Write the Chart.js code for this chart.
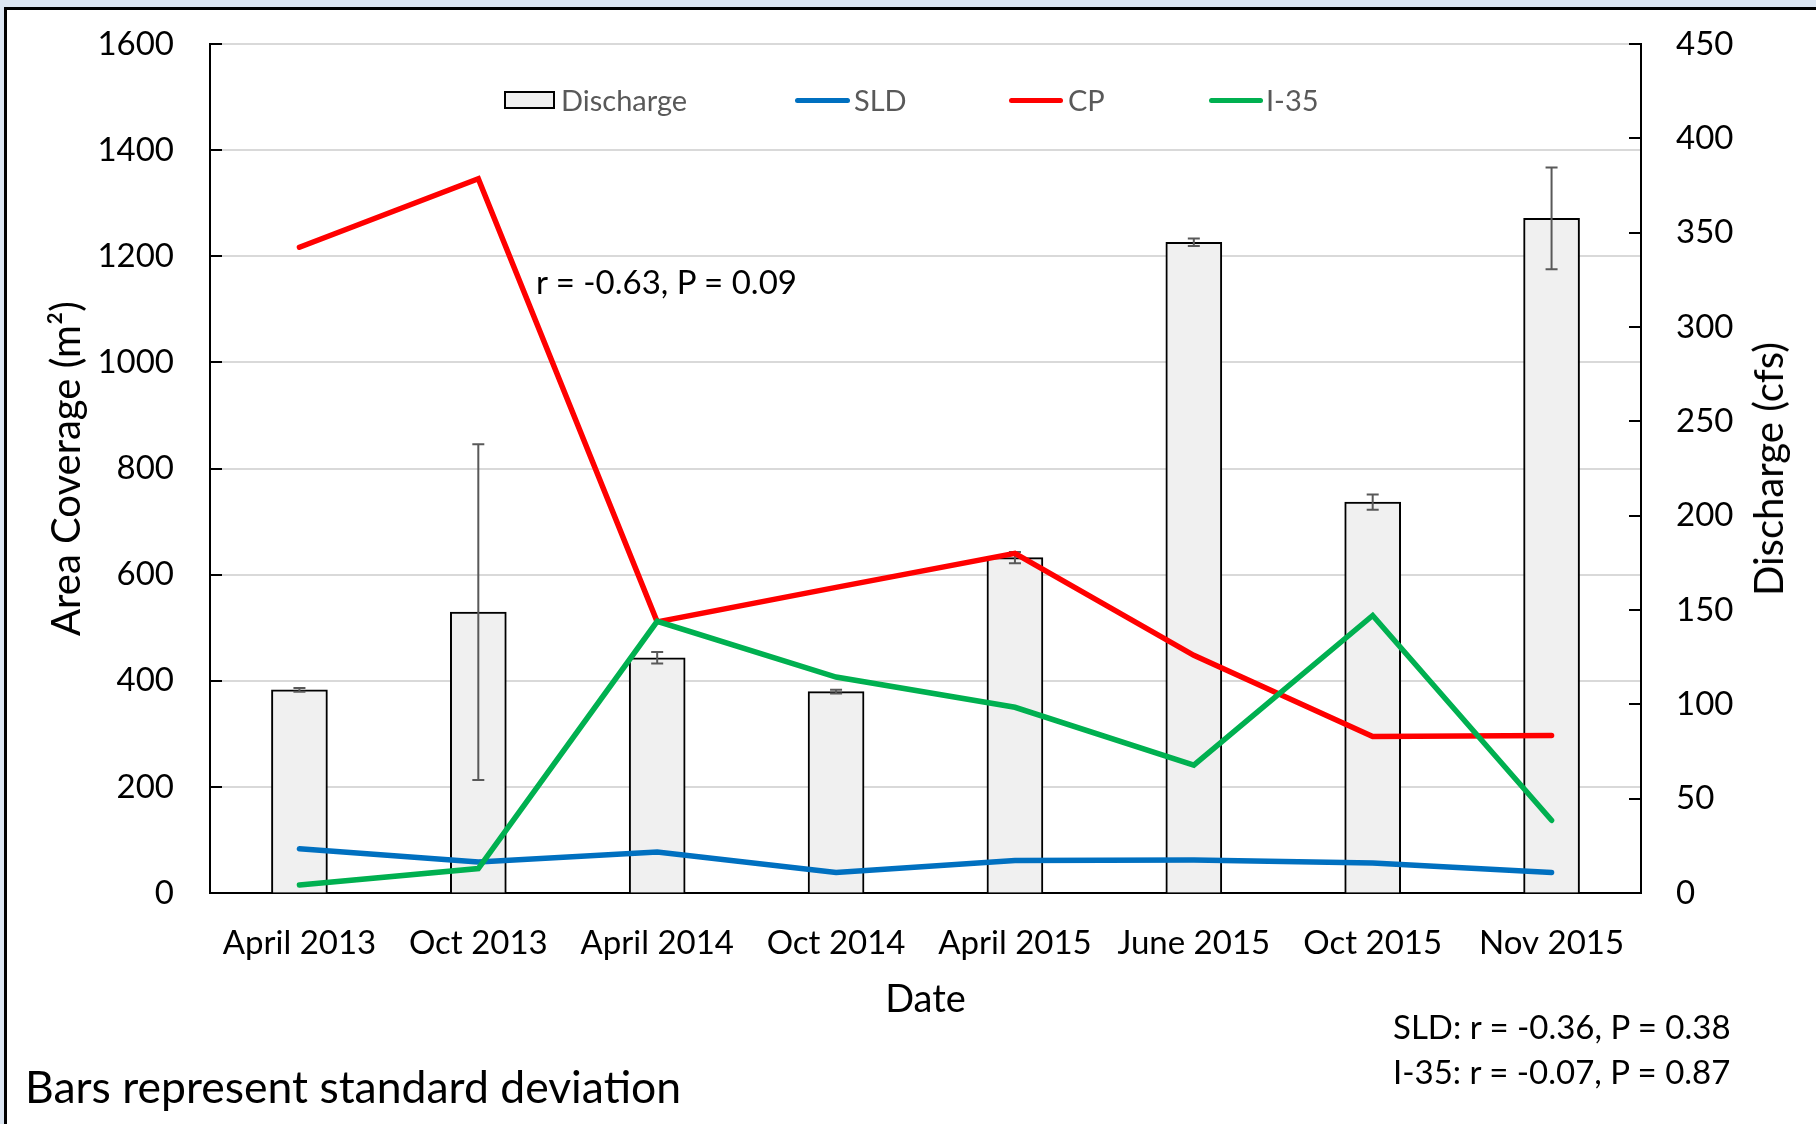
<!DOCTYPE html>
<html>
<head>
<meta charset="utf-8">
<script src="https://cdn.jsdelivr.net/npm/chart.js@4.4.1/dist/chart.umd.min.js"></script>
<style>
  html, body { margin: 0; padding: 0; }
  body { width: 1816px; height: 1124px; overflow: hidden; background: #dce6f2; position: relative; font-family: Lato, sans-serif; }
  #frame { position: absolute; left: 4px; top: 7px; width: 1900px; height: 1200px; border-top: 3px solid #000; border-left: 3px solid #000; background: #fff; }
  #c { position: absolute; left: 0; top: 0; }
  .t { position: absolute; white-space: nowrap; color: #000; font-family: Lato, sans-serif; }
  .lg { position: absolute; white-space: nowrap; color: #595959; font-family: Lato, sans-serif; font-size: 29px; line-height: 36px; top: 82px; }
  .ll { position: absolute; height: 5px; top: 98px; border-radius: 3px; }
</style>
</head>
<body>
<div id="frame"></div>
<canvas id="c" width="1816" height="1124"></canvas>

<div style="position:absolute;left:504px;top:91px;width:51px;height:18px;background:#f0f0f0;border:2px solid #000;box-sizing:border-box;"></div>
<div class="lg" style="left:561px;">Discharge</div>
<div class="ll" style="left:795px;width:55px;background:#0070C0;"></div>
<div class="lg" style="left:854px;">SLD</div>
<div class="ll" style="left:1009px;width:54px;background:#FF0000;"></div>
<div class="lg" style="left:1068px;">CP</div>
<div class="ll" style="left:1209px;width:54px;background:#00B050;"></div>
<div class="lg" style="left:1266px;">I-35</div>

<div class="t" style="left:536px;top:261px;font-size:33px;line-height:40px;">r = -0.63, P = 0.09</div>
<div class="t" style="left:1393px;top:1006px;font-size:33px;line-height:40px;">SLD: r = -0.36, P = 0.38</div>
<div class="t" style="left:1393px;top:1051px;font-size:33px;line-height:40px;">I-35: r = -0.07, P = 0.87</div>
<div class="t" style="left:25px;top:1062px;font-size:44.5px;line-height:48px;">Bars represent standard deviation</div>
<div class="t" style="left:1768px;top:469px;font-size:40px;line-height:46px;transform:translate(-50%,-50%) rotate(-90deg);">Discharge (cfs)</div>

<script>
const categories = ['April 2013', 'Oct 2013', 'April 2014', 'Oct 2014', 'April 2015', 'June 2015', 'Oct 2015', 'Nov 2015'];
const discharge   = [107.7, 148.9, 124.7, 106.7, 177.8, 344.9, 207.2, 357.6];
const dischargeSD = [1, 89, 3, 1, 3, 2, 4, 27];
const sld = [83.5, 58.4, 77.2, 38.8, 61.4, 62, 56.5, 38.8];
const cp  = [1217, 1346, 511, 576, 640, 448, 295, 297];
const i35 = [15, 46, 512, 407, 350, 241, 523, 137];
const leftTicks = [0, 200, 400, 600, 800, 1000, 1200, 1400, 1600];
const rightTicks = [0, 50, 100, 150, 200, 250, 300, 350, 400, 450];

const errorBars = {
  id: 'errorBars',
  afterDatasetDraw(chart, args) {
    if (args.index !== 0) return;
    const meta = chart.getDatasetMeta(0);
    const ys = chart.scales.y2;
    const ctx = chart.ctx;
    ctx.save();
    ctx.strokeStyle = '#595959';
    ctx.lineWidth = 2;
    meta.data.forEach((bar, i) => {
      const x = bar.x;
      const top = ys.getPixelForValue(discharge[i] + dischargeSD[i]);
      const bot = ys.getPixelForValue(discharge[i] - dischargeSD[i]);
      ctx.beginPath();
      ctx.moveTo(x, top); ctx.lineTo(x, bot);
      ctx.moveTo(x - 6, top); ctx.lineTo(x + 6, top);
      ctx.moveTo(x - 6, bot); ctx.lineTo(x + 6, bot);
      ctx.stroke();
    });
    ctx.restore();
  }
};

const insideTicks = {
  id: 'insideTicks',
  afterDraw(chart) {
    const ctx = chart.ctx;
    const yl = chart.scales.y, yr = chart.scales.y2;
    ctx.save();
    ctx.strokeStyle = '#000';
    ctx.lineWidth = 2;
    ctx.beginPath();
    leftTicks.forEach(v => {
      const p = Math.round(yl.getPixelForValue(v));
      ctx.moveTo(yl.right, p); ctx.lineTo(yl.right + 12, p);
    });
    rightTicks.forEach(v => {
      const p = Math.round(yr.getPixelForValue(v));
      ctx.moveTo(yr.left, p); ctx.lineTo(yr.left - 12, p);
    });
    ctx.stroke();
    ctx.restore();
  }
};

function build() {
  new Chart(document.getElementById('c'), {
    type: 'bar',
    data: {
      labels: categories,
      datasets: [
        { type: 'bar', label: 'Discharge', data: discharge, yAxisID: 'y2', order: 10,
          backgroundColor: '#f0f0f0', borderColor: '#000', borderWidth: 2, barThickness: 56 },
        { type: 'line', label: 'SLD', data: sld, yAxisID: 'y', order: 3,
          borderColor: '#0070C0', borderWidth: 5.5, pointRadius: 0, borderCapStyle: 'round', fill: false, tension: 0 },
        { type: 'line', label: 'CP', data: cp, yAxisID: 'y', order: 2,
          borderColor: '#FF0000', borderWidth: 5.5, pointRadius: 0, borderCapStyle: 'round', fill: false, tension: 0 },
        { type: 'line', label: 'I-35', data: i35, yAxisID: 'y', order: 1,
          borderColor: '#00B050', borderWidth: 5.5, pointRadius: 0, borderCapStyle: 'round', fill: false, tension: 0 }
      ]
    },
    options: {
      responsive: false,
      animation: false,
      devicePixelRatio: 1,
      layout: { padding: { top: 44, left: 0, right: 0, bottom: 0 } },
      plugins: { legend: { display: false }, tooltip: { enabled: false } },
      scales: {
        x: {
          offset: true,
          grid: { display: false, drawTicks: false },
          border: { display: true, color: '#000', width: 2 },
          ticks: { color: '#000', font: { family: 'Lato', size: 33 }, padding: 31, maxRotation: 0, autoSkip: false },
          title: { display: true, text: 'Date', color: '#000', font: { family: 'Lato', size: 38 }, padding: { top: 0, bottom: 101 } },
          afterFit(s) { s.height = 231; }
        },
        y: {
          position: 'left', min: 0, max: 1600,
          ticks: { stepSize: 200, color: '#000', font: { family: 'Lato', size: 33 }, padding: 6,
                   callback: v => String(v) },
          grid: { color: '#d9d9d9', lineWidth: 2, drawTicks: true, tickLength: 30, tickColor: 'rgba(0,0,0,0)' },
          border: { display: true, color: '#000', width: 2 },
          title: { display: true, text: 'Area Coverage (m²)', color: '#000', font: { family: 'Lato', size: 40 }, padding: { top: 43, bottom: 0 } },
          afterFit(s) { s.width = 210; }
        },
        y2: {
          position: 'right', min: 0, max: 450,
          ticks: { stepSize: 50, color: '#000', font: { family: 'Lato', size: 33 }, padding: 5,
                   callback: v => String(v) },
          grid: { display: true, drawOnChartArea: false, drawTicks: true, tickLength: 30, tickColor: 'rgba(0,0,0,0)' },
          border: { display: true, color: '#000', width: 2 },
          afterFit(s) { s.width = 175; }
        }
      }
    },
    plugins: [errorBars, insideTicks]
  });
}

if (document.fonts && document.fonts.load) {
  Promise.all([document.fonts.load('33px Lato'), document.fonts.load('40px Lato')]).then(build, build);
} else { build(); }
</script>
</body>
</html>
